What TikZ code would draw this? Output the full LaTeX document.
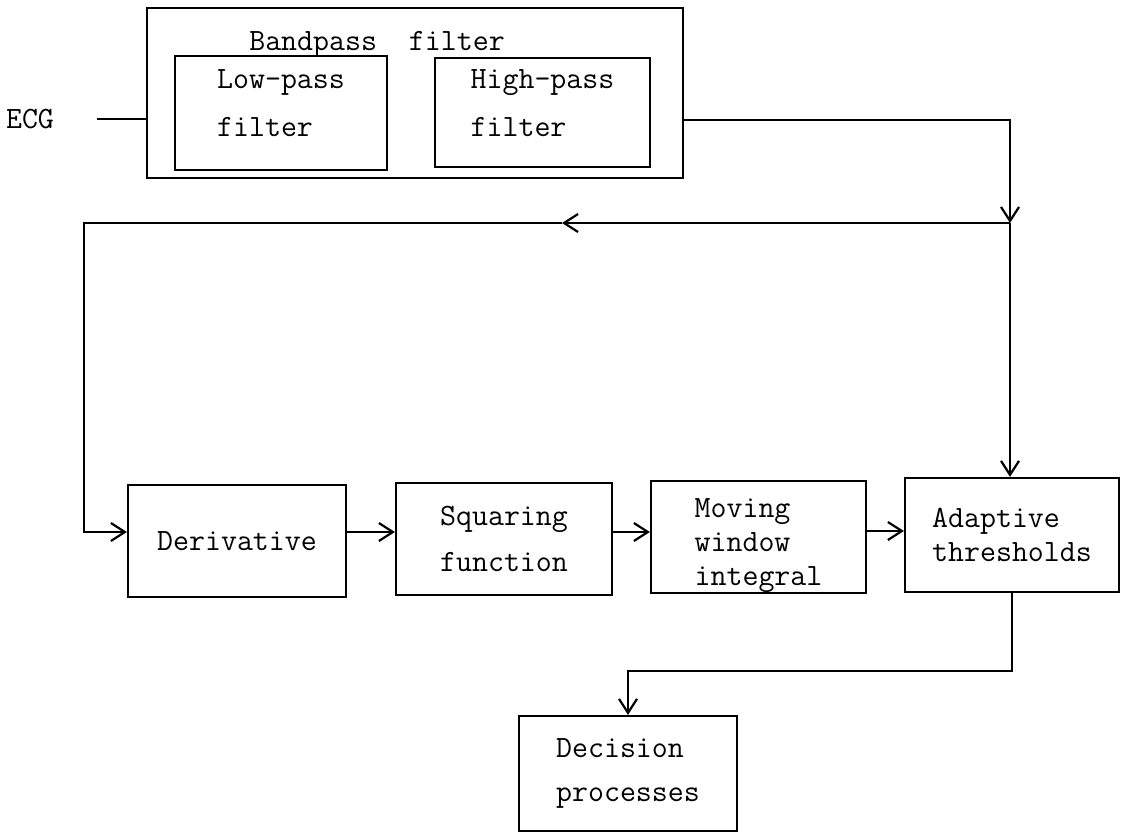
\documentclass[tikz,border=0pt]{standalone}
\usepackage{tikz}
\usetikzlibrary{arrows.meta}
\begin{document}
\begin{tikzpicture}[x=0.5pt, y=-0.5pt, line width=1.1pt,
  >={Straight Barb[length=7pt,width=9pt]},
  txt/.style={font=\fontsize{15.5}{17}\selectfont\ttfamily, inner sep=0pt},
  blk/.style={draw, txt, align=left}]
\useasboundingbox (0,0) rectangle (1127,834);
\node[txt] (ecg) at (30,119) {ECG};
\node[draw, minimum width=268pt, minimum height=85pt] (bpf) at (415,93) {};
\node[txt] (bpft) at (377,44) {Bandpass\ \ filter};
\node[blk, minimum width=106pt, minimum height=57pt] (lp) at (281,113) {Low-pass\\[7pt]filter\\[-7pt]\mbox{}};
\node[blk, minimum width=107.5pt, minimum height=54.5pt] (hp) at (542.5,112.5) {High-pass\\[7pt]filter\\[-8pt]\mbox{}};
\node[blk, minimum width=109pt, minimum height=56pt] (der) at (237,541) {Derivative};
\node[blk, minimum width=108pt, minimum height=56pt] (sq) at (504,539) {Squaring\\[6pt]function};
\node[blk, minimum width=107.5pt, minimum height=56pt] (mw) at (758.5,537) {\mbox{}\\[1.5pt]Moving\\window\\integral};
\node[blk, minimum width=107pt, minimum height=57pt] (ad) at (1012,535) {Adaptive\\thresholds};
\node[blk, minimum width=109pt, minimum height=57.5pt] (dec) at (628,773.5) {Decision\\[5pt]processes};
\coordinate (jn) at (1010,223);
\coordinate (fb) at (562,223);
\coordinate (fbc) at (84,223);
\draw[shorten <=21pt] (ecg.east) -- (ecg.east -| bpf.west);
\draw[->] ([yshift=-13.5pt]bpf.east) -| (jn);
\draw[->] (jn) -- (fb);
\draw[->] (fb) -- (fbc) |- (der.west |- 0,532);
\draw[->] (jn) -- (jn |- ad.north);
\draw[->] (der.east |- 0,532) -- (sq.west |- 0,532);
\draw[->] (sq.east |- 0,532) -- (mw.west |- 0,532);
\draw[->] (mw.east |- 0,531) -- (ad.west |- 0,531);
\draw[->] (ad.south) -- ++(0,78) -| (dec.north);
\end{tikzpicture}
\end{document}
